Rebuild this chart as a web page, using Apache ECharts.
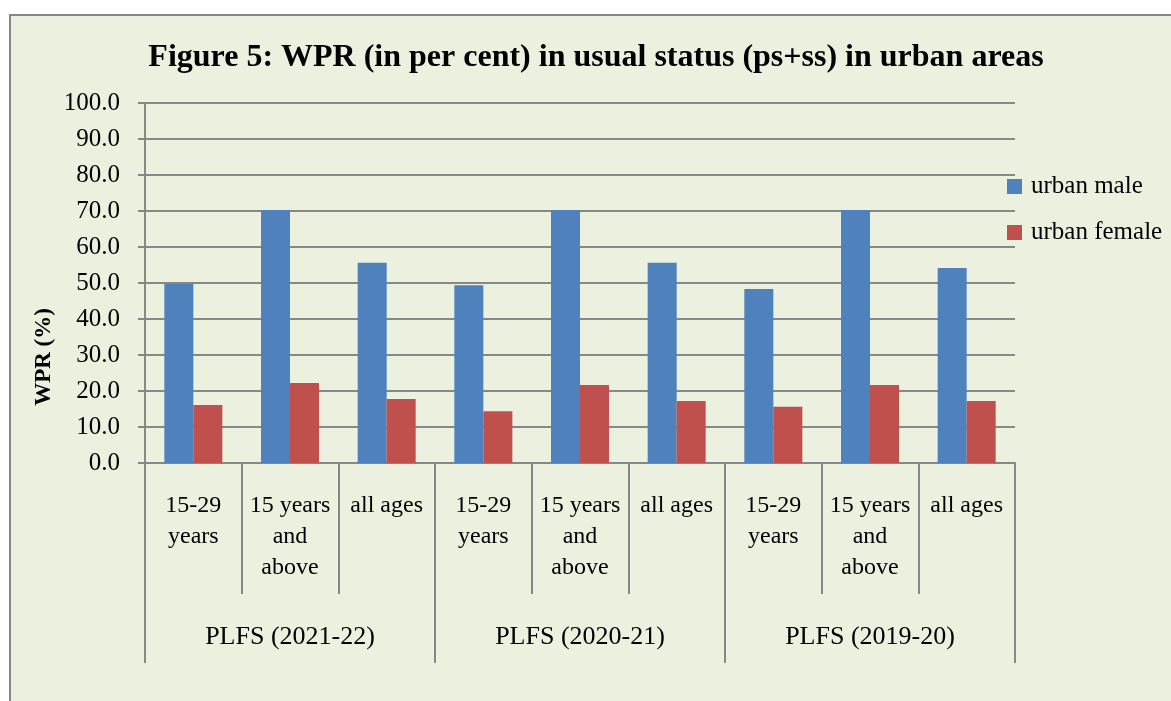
<!DOCTYPE html>
<html>
<head>
<meta charset="utf-8">
<title>Figure 5: WPR in urban areas</title>
<script src="https://cdn.jsdelivr.net/npm/echarts@6/dist/echarts.min.js"></script>
<style>
    html, body { margin: 0; padding: 0; background: #fff; overflow: hidden; }
    /* chart area frame, runs off the right and bottom edge like the source */
    #frame {
        position: absolute; left: 9px; top: 14px; width: 1300px; height: 800px;
        border-left: 2px solid #878787; border-top: 2px solid #878787;
        background: #EBF1DE;
    }
    #chart { position: absolute; left: 0; top: 0; width: 1171px; height: 701px; }
</style>
</head>
<body>
<div id="frame"></div>
<div id="chart"></div>
<script>
    // sub categories (age groups) and survey rounds
    const ageGroups = [
        '15-29\nyears', '15 years\nand\nabove', 'all ages',
        '15-29\nyears', '15 years\nand\nabove', 'all ages',
        '15-29\nyears', '15 years\nand\nabove', 'all ages'
    ];
    const surveys = ['PLFS (2021-22)', 'PLFS (2020-21)', 'PLFS (2019-20)'];

    // WPR values (per cent)
    const urbanMale = [49.7, 70.3, 55.6, 49.4, 70.3, 55.6, 48.3, 70.3, 54.2];
    const urbanFemale = [16.1, 22.2, 17.8, 14.4, 21.7, 17.2, 15.6, 21.7, 17.2];

    const FONT = '"Liberation Serif", "Times New Roman", serif';
    const GRAY = '#878787';

    const chart = echarts.init(document.getElementById('chart'));

    const option = {
        backgroundColor: 'transparent',
        animation: false,
        color: ['#4F81BD', '#C0504D'],
        title: {
            text: 'Figure 5: WPR (in per cent) in usual status (ps+ss) in urban areas',
            left: 591,
            top: 37,
            textAlign: 'center',
            textStyle: {
                fontFamily: FONT,
                fontSize: 32,
                fontWeight: 'bold',
                color: '#000'
            }
        },
        legend: {
            orient: 'vertical',
            left: 1007,
            top: 174,
            padding: 0,
            itemWidth: 15,
            itemHeight: 15,
            itemGap: 21,
            icon: 'rect',
            textStyle: {
                fontFamily: FONT,
                fontSize: 25,
                color: '#000',
                padding: [0, 0, 0, 4]
            },
            data: ['urban male', 'urban female']
        },
        grid: {
            left: 145,
            right: 156,
            top: 103,
            bottom: 238
        },
        xAxis: [
            {
                type: 'category',
                data: ageGroups,
                position: 'bottom',
                axisLine: { lineStyle: { color: GRAY, width: 2 } },
                axisTick: {
                    show: true,
                    interval: 0,
                    length: 131,
                    lineStyle: { color: GRAY, width: 2 }
                },
                axisLabel: {
                    interval: 0,
                    margin: 27,
                    fontFamily: FONT,
                    fontSize: 24,
                    lineHeight: 31,
                    color: '#000'
                }
            },
            {
                type: 'category',
                data: surveys,
                position: 'bottom',
                axisLine: { show: false },
                axisTick: {
                    show: true,
                    interval: 0,
                    length: 200,
                    lineStyle: { color: GRAY, width: 2 }
                },
                axisLabel: {
                    interval: 0,
                    margin: 159,
                    fontFamily: FONT,
                    fontSize: 26,
                    lineHeight: 31,
                    color: '#000'
                }
            }
        ],
        yAxis: {
            type: 'value',
            min: 0,
            max: 100,
            interval: 10,
            axisLine: { show: true, lineStyle: { color: GRAY, width: 2 } },
            axisTick: { show: true, length: 7, lineStyle: { color: GRAY, width: 2 } },
            axisLabel: {
                margin: 25,
                fontFamily: FONT,
                fontSize: 25,
                color: '#000',
                formatter: (value) => value.toFixed(1)
            },
            splitLine: { lineStyle: { color: GRAY, width: 2 } }
        },
        graphic: [
            {
                // y axis title sits lower than the axis middle in the source
                type: 'text',
                x: 44,
                y: 357,
                rotation: Math.PI / 2,
                style: {
                    text: 'WPR (%)',
                    font: 'bold 23px ' + FONT,
                    fill: '#000',
                    align: 'center',
                    verticalAlign: 'middle'
                }
            }
        ],
        series: [
            {
                name: 'urban male',
                type: 'bar',
                xAxisIndex: 0,
                barWidth: '30%',
                barGap: '0%',
                data: urbanMale
            },
            {
                name: 'urban female',
                type: 'bar',
                xAxisIndex: 0,
                barWidth: '30%',
                barGap: '0%',
                data: urbanFemale
            }
        ]
    };

    chart.setOption(option);
</script>
</body>
</html>
